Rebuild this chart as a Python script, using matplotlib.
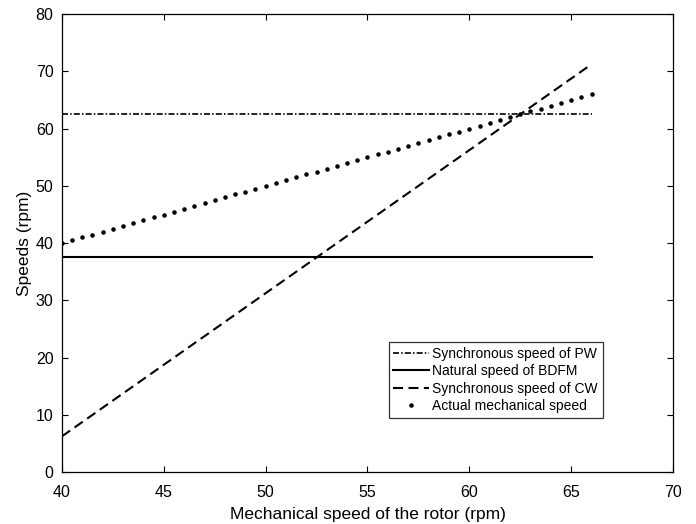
import numpy as np
import matplotlib
matplotlib.use('Agg')
import matplotlib.pyplot as plt

# Dados das curvas (velocidades em rpm)
rotor_speed = np.arange(40, 66.01, 0.5)
pw_sync = [62.5, 62.5]
bdfm_natural = [37.5, 37.5]
cw_sync = [6.25, 71.25]
x_ends = [40, 66]

plt.rcParams['font.family'] = ['Liberation Sans', 'DejaVu Sans']

fig = plt.figure(figsize=(6.96, 5.24), dpi=100)
ax = fig.add_axes([0.089, 0.099, 0.878, 0.874])

ax.plot(x_ends, pw_sync, color='black', linestyle='-.', linewidth=1.2,
        dashes=(3.6, 1.3, 0.9, 1.3), label='Synchronous speed of PW')
ax.plot(x_ends, bdfm_natural, color='black', linestyle='-', linewidth=1.5,
        label='Natural speed of BDFM')
ax.plot(x_ends, cw_sync, color='black', linestyle='--', linewidth=1.5,
        dashes=(4.8, 2.6), label='Synchronous speed of CW')
ax.plot(rotor_speed, rotor_speed, color='black', linestyle='none', marker='.',
        markersize=4.5, label='Actual mechanical speed')

ax.set_xlim(40, 70)
ax.set_ylim(0, 80)
ax.set_xticks(range(40, 71, 5))
ax.set_yticks(range(0, 81, 10))
ax.tick_params(direction='in', top=True, right=True, length=4, labelsize=11.5)
ax.tick_params(axis='x', pad=9)
ax.tick_params(axis='y', pad=6)
for s in ax.spines.values():
    s.set_linewidth(0.9)

ax.set_xlabel('Mechanical speed of the rotor (rpm)', fontsize=12.5, labelpad=5)
ax.set_ylabel('Speeds (rpm)', fontsize=12.5, labelpad=3)

leg = ax.legend(loc='lower right', bbox_to_anchor=(0.885, 0.118), fontsize=10,
                frameon=True, fancybox=False, edgecolor='black',
                handlelength=2.6, handletextpad=0.2, borderpad=0.35,
                labelspacing=0.25, borderaxespad=0)
leg.get_frame().set_linewidth(0.9)

plt.savefig('out.png', dpi=100)
